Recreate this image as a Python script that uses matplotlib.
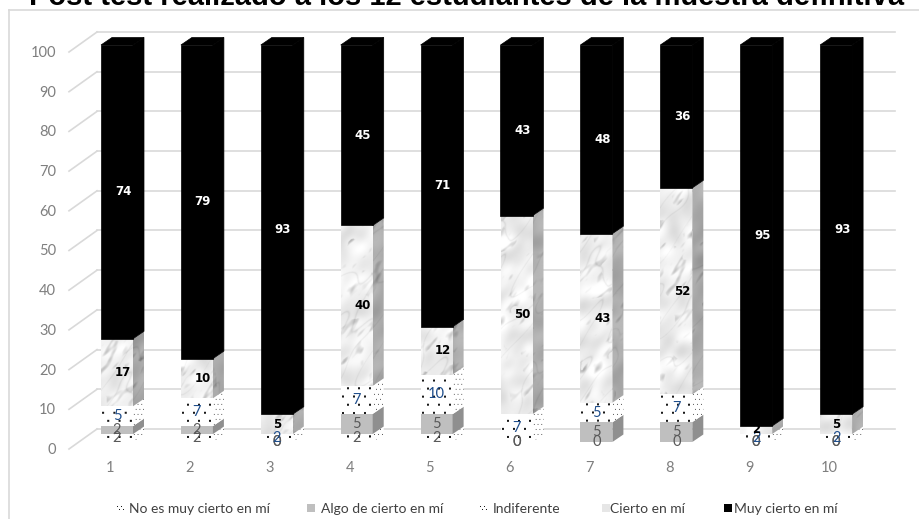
import numpy as np
from matplotlib import pyplot as plt
from matplotlib.patches import Polygon, Rectangle

categories = [1, 2, 3, 4, 5, 6, 7, 8, 9, 10]
no_es = [2, 2, 0, 2, 2, 0, 0, 0, 0, 0]
algo = [2, 2, 0, 5, 5, 0, 5, 5, 0, 0]
indiferente = [5, 7, 2, 7, 10, 7, 5, 7, 2, 2]
cierto = [17, 10, 5, 40, 12, 50, 43, 52, 2, 5]
muy_cierto = [74, 79, 93, 45, 71, 43, 48, 36, 95, 93]
series_names = ["No es muy cierto en mí", "Algo de cierto en mí", "Indiferente",
                "Cierto en mí", "Muy cierto en mí"]
y_ticks = [0, 10, 20, 30, 40, 50, 60, 70, 80, 90, 100]
title = "Post test realizado a los 12 estudiantes de la muestra definitiva"

W, H = 919, 519
PX_X = 79.9   # px per category
PX_Y = 3.97   # px per percent
x0_px, y0_px = 117, 442


def dx(px):
    return px / PX_X


def dy(px):
    return px / PX_Y


def ax_x(px):
    return 1 + (px - x0_px) / PX_X


def ax_y(py):
    return (y0_px - py) / PX_Y


# marble texture, only a surface look for the "Cierto en mí" fill
rng = np.random.default_rng(11)


def smooth_noise(n, m, cut, squash=0.2):
    spec = np.fft.fft2(rng.normal(size=(n, m)))
    fy = np.fft.fftfreq(n)[:, None]
    fx = np.fft.fftfreq(m)[None, :]
    u = fx * 0.8 + fy * 0.6
    v = fy * 0.8 - fx * 0.6
    spec *= np.exp(-(u ** 2 + v ** 2 / squash) / cut ** 2)
    out = np.fft.ifft2(spec).real
    return out / out.std()


veins = np.exp(-np.abs(smooth_noise(800, 240, 0.02, 0.1)) / 0.05)
streaks = np.clip(smooth_noise(800, 240, 0.09, 0.12) - 0.7, 0, None)
cloud = smooth_noise(800, 240, 0.025, 0.5)
marble = 0.94 - 0.10 * veins - 0.10 * streaks * (cloud > -0.2) + 0.035 * cloud
marble = np.clip(marble, 0.5, 1)


def dot_tile(h, w, step_x, step_y, size, col):
    # 1 cell = 1 px, rows of dots staggered a little
    tile = np.ones((h, w))
    for r, y in enumerate(range(2, h, step_y)):
        for x in range(1 + (r % 2) * step_x // 2, w, step_x):
            tile[y:y + size, x:x + size] = col
    return tile


front_dots = dot_tile(400, 32, 11, 8, 2, 0.1)
side_dots = dot_tile(410, 12, 4, 5, 1, 0.35)
mark_dots = dot_tile(8, 8, 4, 3, 1, 0.1)

fig = plt.figure(figsize=(W / 100, H / 100), dpi=100)
ax = fig.add_axes([0, 0, 1, 1])
ax.set_axis_off()

# chart frame
grid_col = "#d9d9d9"
ax.plot([9 / W, 9 / W], [0, 1 - 9.5 / H], color=grid_col, lw=1.2, transform=ax.transAxes)
ax.plot([9 / W, 1], [1 - 9.5 / H, 1 - 9.5 / H], color=grid_col, lw=1.2, transform=ax.transAxes)

# back wall grid and the slanted side wall lines
for t in y_ticks:
    ax.plot([ax_x(97), ax_x(895)], [t + dy(13), t + dy(13)], color=grid_col, lw=1.2, zorder=1)
    ax.plot([ax_x(69), ax_x(97)], [t - dy(7), t + dy(13)], color=grid_col, lw=1.2, zorder=1)
    ax.text(ax_x(56), t - dy(8), str(t), ha="right", va="center", color="#7f7f7f",
            fontsize=10.5, family="Lato")

for c in categories:
    ax.text(c - dx(7), ax_y(468), str(c), ha="center", va="center", color="#7f7f7f",
            fontsize=10.5, family="Lato")

bw = 32 / PX_X
ddx, ddy = dx(11), dy(7.5)
series = [no_es, algo, indiferente, cierto, muy_cierto]
label_cols = ["#595959", "#595959", "#1f4e8c", "black", "white"]


def textured(arr, extent, clip, z, interp="bilinear"):
    im = ax.imshow(arr, extent=extent, cmap="gray", vmin=0, vmax=1, aspect="auto",
                   zorder=z, interpolation=interp)
    im.set_clip_path(clip)
    return im


for i, c in enumerate(categories):
    vals = [s[i] for s in series]
    total = sum(vals)
    left, right = c - bw / 2, c + bw / 2
    base = 0
    for k, v in enumerate(vals):
        if v == 0:
            continue
        h = v * 100 / total  # 100 % stacked
        side = [(right, base), (right + ddx, base + ddy),
                (right + ddx, base + h + ddy), (right, base + h)]
        front = Rectangle((left, base), bw, h, transform=ax.transData)
        side_clip = Polygon(side, transform=ax.transData)
        z = 3 + k * 0.01
        if k in (0, 2):
            textured(front_dots, (left, right, 0, 400 / PX_Y), front, z)
            textured(side_dots, (right, right + ddx, 0, 410 / PX_Y), side_clip, z)
        elif k == 1:
            ax.bar(c, h, bottom=base, width=bw, color="#bfbfbf", lw=0, zorder=z)
            ax.add_patch(Polygon(side, facecolor="#8f8f8f", lw=0, zorder=z))
        elif k == 3:
            tex = np.roll(np.roll(marble, i * 37, axis=1), i * 91, axis=0)
            textured(tex[:, :64], (left, right, 0, 100), front, z)
            textured(tex[:, 100:122] * 0.72, (right, right + ddx, 0, 100 + ddy), side_clip, z)
        else:
            ax.bar(c, h, bottom=base, width=bw, color="black", edgecolor="black", lw=0.5, zorder=z)
            ax.add_patch(Polygon(side, facecolor="black", edgecolor="black", lw=0.5, zorder=z))
            ax.add_patch(Polygon([(left, base + h), (left + ddx, base + h + ddy),
                                  (right + ddx, base + h + ddy), (right, base + h)],
                                 facecolor="black", edgecolor="black", lw=0.5, zorder=z))
        base += h
    # data labels, zeros too
    base = 0
    for k, v in enumerate(vals):
        h = v * 100 / total
        mid = base + h / 2
        if k >= 3:
            off = dx(6) if v >= 10 else 0
            ax.text(c + off, mid, str(v), ha="center", va="center", color=label_cols[k],
                    fontsize=8.5, fontweight="bold", family="DejaVu Sans", zorder=6)
        else:
            ax.text(c, mid, str(v), ha="center", va="center", color=label_cols[k],
                    fontsize=10.5, family="Lato", zorder=6)
        base += h

# legend
mark_px = [120, 311, 483, 606, 728]
text_px = [129, 321, 493, 610, 734]
for k, name in enumerate(series_names):
    m = ax_x(mark_px[k])
    s = dx(8)
    y = ax_y(512)
    if k in (0, 2):
        textured(mark_dots, (m - s / 2, m + s / 2, y, y + dy(8)),
                 Rectangle((m - s / 2, y), s, dy(8), transform=ax.transData), 3)
    else:
        col = {1: "#bfbfbf", 3: "#e6e6e6", 4: "black"}[k]
        ax.add_patch(Rectangle((m - s / 2, y), s, dy(8), facecolor=col, lw=0))
    ax.text(ax_x(text_px[k]), ax_y(509), name, ha="left", va="center", color="#404040",
            fontsize=10, family="Lato")

ax.text(ax_x(467), ax_y(5), title, ha="center", va="baseline", color="black",
        fontsize=21, fontweight="bold", family="Liberation Sans")

ax.set_xlim(ax_x(0), ax_x(W))
ax.set_ylim(ax_y(H), ax_y(0))
fig.savefig("out.png", dpi=100)
